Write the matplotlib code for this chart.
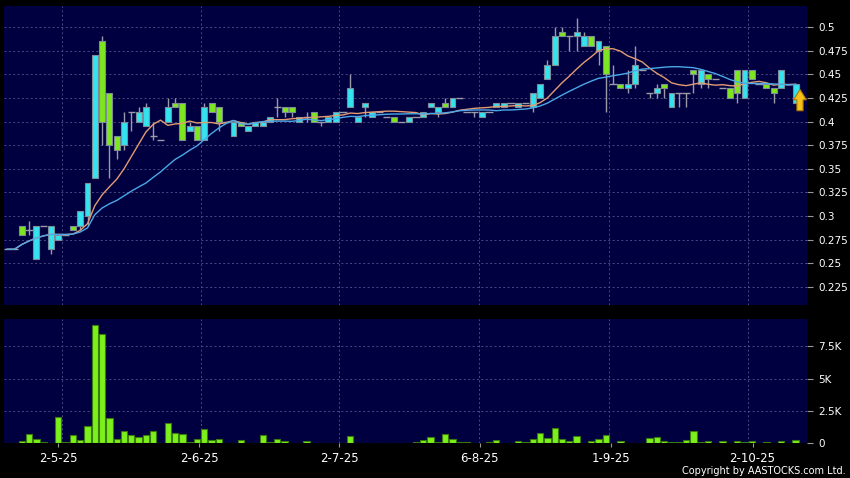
import matplotlib
matplotlib.use('Agg')
import matplotlib.pyplot as plt
from matplotlib.patches import Rectangle, Polygon
import numpy as np
import pandas as pd

# daily OHLC
opens = [0.265, 0.265, 0.29, 0.285, 0.255, 0.29, 0.265, 0.275, 0.28, 0.29,
         0.29, 0.30, 0.34, 0.485, 0.43, 0.385, 0.375, 0.41, 0.40, 0.395,
         0.385, 0.38, 0.40, 0.42, 0.42, 0.39, 0.395, 0.38, 0.42, 0.415,
         0.40, 0.385, 0.40, 0.39, 0.395, 0.395, 0.40, 0.415, 0.415, 0.415,
         0.40, 0.405, 0.41, 0.40, 0.40, 0.40, 0.41, 0.415, 0.40, 0.415,
         0.405, 0.41, 0.405, 0.405, 0.40, 0.40, 0.405, 0.405, 0.415, 0.41,
         0.42, 0.415, 0.425, 0.41, 0.41, 0.405, 0.41, 0.415, 0.415, 0.42,
         0.415, 0.42, 0.415, 0.425, 0.445, 0.46, 0.495, 0.49, 0.49, 0.48,
         0.49, 0.475, 0.48, 0.44, 0.44, 0.435, 0.44, 0.455, 0.43, 0.43,
         0.44, 0.415, 0.43, 0.43, 0.455, 0.44, 0.45, 0.445, 0.435, 0.435,
         0.455, 0.425, 0.455, 0.44, 0.44, 0.435, 0.435, 0.44, 0.42]
highs = [0.265, 0.265, 0.29, 0.295, 0.29, 0.29, 0.29, 0.28, 0.28, 0.29,
         0.305, 0.335, 0.47, 0.49, 0.43, 0.385, 0.41, 0.41, 0.415, 0.42,
         0.40, 0.38, 0.425, 0.425, 0.42, 0.40, 0.395, 0.42, 0.42, 0.415,
         0.40, 0.40, 0.40, 0.395, 0.40, 0.40, 0.405, 0.425, 0.415, 0.415,
         0.405, 0.41, 0.41, 0.40, 0.405, 0.41, 0.41, 0.45, 0.405, 0.42,
         0.41, 0.41, 0.405, 0.405, 0.40, 0.405, 0.405, 0.41, 0.42, 0.415,
         0.425, 0.425, 0.425, 0.41, 0.41, 0.41, 0.41, 0.42, 0.42, 0.42,
         0.42, 0.42, 0.43, 0.44, 0.465, 0.50, 0.50, 0.49, 0.51, 0.495,
         0.49, 0.485, 0.48, 0.46, 0.44, 0.455, 0.48, 0.455, 0.43, 0.44,
         0.44, 0.43, 0.43, 0.43, 0.455, 0.455, 0.45, 0.445, 0.435, 0.435,
         0.455, 0.455, 0.455, 0.44, 0.44, 0.435, 0.455, 0.44, 0.44]
lows = [0.265, 0.265, 0.28, 0.28, 0.255, 0.29, 0.26, 0.275, 0.28, 0.285,
        0.285, 0.29, 0.34, 0.375, 0.34, 0.36, 0.37, 0.39, 0.40, 0.395,
        0.38, 0.38, 0.40, 0.415, 0.38, 0.39, 0.38, 0.38, 0.41, 0.39,
        0.40, 0.385, 0.395, 0.39, 0.395, 0.395, 0.40, 0.405, 0.405, 0.405,
        0.40, 0.40, 0.40, 0.395, 0.40, 0.40, 0.41, 0.415, 0.40, 0.405,
        0.405, 0.41, 0.405, 0.40, 0.40, 0.40, 0.405, 0.405, 0.415, 0.405,
        0.415, 0.415, 0.425, 0.41, 0.405, 0.405, 0.41, 0.415, 0.415, 0.42,
        0.415, 0.42, 0.41, 0.425, 0.445, 0.46, 0.49, 0.475, 0.475, 0.48,
        0.48, 0.46, 0.41, 0.44, 0.435, 0.43, 0.435, 0.455, 0.425, 0.425,
        0.425, 0.415, 0.415, 0.415, 0.43, 0.435, 0.435, 0.445, 0.435, 0.425,
        0.42, 0.425, 0.445, 0.44, 0.435, 0.42, 0.435, 0.44, 0.42]
closes = [0.265, 0.265, 0.28, 0.285, 0.29, 0.29, 0.29, 0.28, 0.28, 0.285,
          0.305, 0.335, 0.47, 0.40, 0.375, 0.37, 0.40, 0.41, 0.41, 0.415,
          0.385, 0.38, 0.415, 0.415, 0.38, 0.395, 0.38, 0.415, 0.41, 0.40,
          0.40, 0.40, 0.395, 0.395, 0.40, 0.40, 0.405, 0.415, 0.41, 0.41,
          0.405, 0.405, 0.40, 0.40, 0.405, 0.41, 0.41, 0.435, 0.405, 0.42,
          0.41, 0.41, 0.405, 0.40, 0.40, 0.405, 0.405, 0.41, 0.42, 0.415,
          0.415, 0.425, 0.425, 0.41, 0.41, 0.41, 0.41, 0.42, 0.42, 0.42,
          0.42, 0.42, 0.43, 0.44, 0.46, 0.49, 0.49, 0.49, 0.495, 0.49,
          0.48, 0.485, 0.45, 0.44, 0.435, 0.44, 0.46, 0.455, 0.43, 0.435,
          0.435, 0.43, 0.43, 0.43, 0.45, 0.455, 0.445, 0.445, 0.435, 0.425,
          0.43, 0.455, 0.445, 0.44, 0.435, 0.43, 0.455, 0.44, 0.44]
volumes = [0, 0, 150, 720, 310, 100, 50, 2030, 100, 620,
           260, 1340, 9130, 8440, 1950, 330, 950, 620, 490, 620,
           930, 30, 1600, 800, 720, 100, 310, 1130, 250, 310,
           20, 40, 250, 40, 40, 620, 100, 355, 200, 30,
           30, 150, 30, 50, 30, 30, 0, 540, 30, 40,
           40, 0, 40, 30, 0, 30, 100, 250, 490, 100,
           700, 330, 100, 100, 20, 30, 100, 250, 40, 0,
           180, 100, 310, 800, 410, 1160, 310, 180, 540, 30,
           180, 330, 640, 40, 150, 20, 30, 30, 430, 470,
           150, 100, 100, 250, 970, 120, 180, 40, 150, 20,
           180, 100, 180, 30, 100, 40, 180, 0, 250]

date_labels = ['2-5-25', '2-6-25', '2-7-25', '6-8-25', '1-9-25', '2-10-25']
date_pos = [7.0, 26.3, 45.5, 64.7, 82.7, 102.1]
grid_pos = [7.55, 26.6, 45.5, 64.6, 82.5, 101.5]
price_ticks = [0.225, 0.25, 0.275, 0.3, 0.325, 0.35, 0.375, 0.4, 0.425, 0.45, 0.475, 0.5]
vol_ticks = [0, 2500, 5000, 7500]
vol_labels = ['0', '2.5K', '5K', '7.5K']

up_col = '#33E3EF'
down_col = '#7DE61E'
navy = '#000040'
grid_col = '#4a4a82'
grid_ls = (0, (2, 2.5))

n = len(closes)
x = np.arange(n)
ma10 = pd.Series(closes).rolling(10, min_periods=1).mean()
ma20 = pd.Series(closes).rolling(20, min_periods=1).mean()

fig = plt.figure(figsize=(8.5, 4.78), dpi=100, facecolor='black')
ax = fig.add_axes([0.0047, 0.3619, 0.9447, 0.6255], facecolor=navy)
axv = fig.add_axes([0.0047, 0.0726, 0.9447, 0.2594], facecolor=navy)

# candles
for i in range(n):
    o, h, l, c = opens[i], highs[i], lows[i], closes[i]
    if h > l:
        ax.vlines(i, l, h, color='#9a9aa8', lw=1, zorder=2)
    if o == c:
        ax.hlines(c, i - 0.5, i + 0.5, color='#9a9aa8', lw=1, zorder=3)
    else:
        col = up_col if c > o else down_col
        ax.add_patch(Rectangle((i - 0.41, min(o, c)), 0.82, abs(c - o),
                               facecolor=col, edgecolor='#7d8c96', lw=0.8, zorder=3))

ax.plot(x, ma10, color='#E39B72', lw=1, zorder=4)
ax.plot(x, ma20, color='#4BA8E8', lw=1, zorder=4)

# last-price arrow
xa = n - 1 + 0.6
tip = closes[-1] - 0.006
hb = closes[-1] - 0.017
bot = closes[-1] - 0.0285
arrow = Polygon([(xa, tip), (xa + 0.87, hb), (xa + 0.42, hb), (xa + 0.42, bot),
                 (xa - 0.42, bot), (xa - 0.42, hb), (xa - 0.87, hb)],
                closed=True, facecolor='#F6C21A', edgecolor='#B57800', lw=0.8, zorder=5)
ax.add_patch(arrow)

ax.set_xlim(-0.44, 109.56)
ax.set_ylim(0.206, 0.5222)

# volume
axv.bar(x, volumes, width=0.86, color='#7CF01A', edgecolor='#3A7A10', lw=0.8, zorder=3)
axv.set_xlim(-0.44, 109.56)
axv.set_ylim(0, 9570)

for a in (ax, axv):
    for s in a.spines.values():
        s.set_visible(False)
    for g in grid_pos:
        a.axvline(g, color=grid_col, lw=0.7, ls=grid_ls, zorder=1)
    a.yaxis.tick_right()
    a.tick_params(axis='y', colors='#999999', labelcolor='white', length=4, pad=4, labelsize=7.5)

for p in price_ticks:
    ax.axhline(p, color=grid_col, lw=0.7, ls=grid_ls, zorder=1)
ax.set_yticks(price_ticks)
ax.set_yticklabels([('%g' % p) for p in price_ticks])
ax.set_xticks([])

for v in vol_ticks[1:]:
    axv.axhline(v, color=grid_col, lw=0.7, ls=grid_ls, zorder=1)
axv.set_yticks(vol_ticks)
axv.set_yticklabels(vol_labels)
axv.set_xticks(date_pos)
axv.set_xticklabels(date_labels)
axv.tick_params(axis='x', colors='#999999', labelcolor='white', length=3, pad=3, labelsize=8.5)

fig.text(0.995, 0.0146, 'Copyright by AASTOCKS.com Ltd.', color='white',
         fontsize=7, ha='right', va='center')

fig.savefig('out.png', dpi=100, facecolor='black')
